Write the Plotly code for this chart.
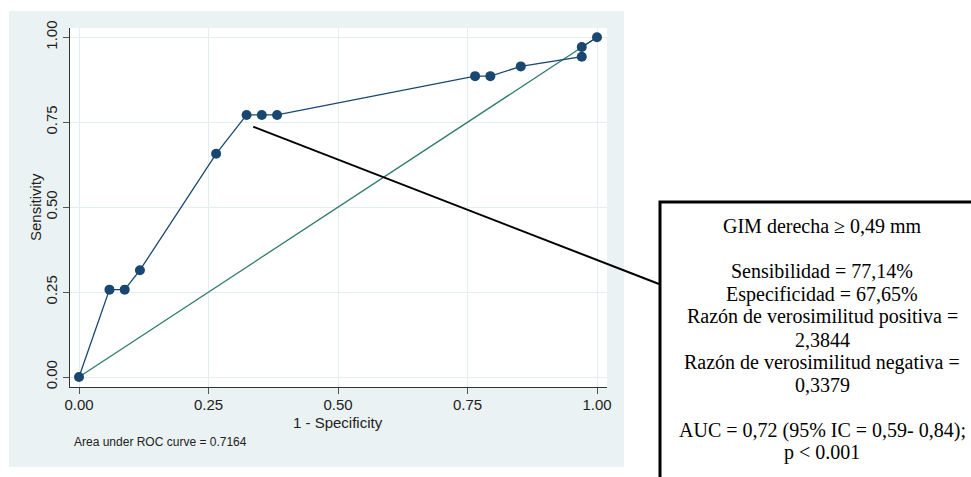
import plotly.graph_objects as go

# ---- data ----
fpr = [0.0, 0.0588, 0.0882, 0.1176, 0.2647, 0.3235, 0.3529, 0.3824,
       0.7647, 0.7941, 0.8529, 0.9706, 0.9706, 1.0]
tpr = [0.0, 0.2571, 0.2571, 0.3143, 0.6571, 0.7714, 0.7714, 0.7714,
       0.8857, 0.8857, 0.9143, 0.9429, 0.9714, 1.0]
ref_x = [0.0, 1.0]
ref_y = [0.0, 1.0]
tick_vals = [0.0, 0.25, 0.5, 0.75, 1.0]
tick_text = ["0.00", "0.25", "0.50", "0.75", "1.00"]
x_title = "1 - Specificity"
y_title = "Sensitivity"
auc_note = "Area under ROC curve = 0.7164"
box_lines = [
    "GIM derecha ≥ 0,49 mm",
    "",
    "Sensibilidad = 77,14%",
    "Especificidad = 67,65%",
    "Razón de verosimilitud positiva =",
    "2,3844",
    "Razón de verosimilitud negativa =",
    "0,3379",
    "",
    "AUC = 0,72 (95% IC = 0,59- 0,84);",
    "p < 0.001",
]
pointer_from = (0.3365, 0.7368)  # data coords of the callout line start

# ---- layout geometry (pixels) ----
W, H = 971, 477
L, R, T, B = 70, 607, 28, 387
PW, PH = R - L, B - T


def px(x):
    return (x - L) / PW


def py(y):
    return (B - y) / PH


NAVY = "#1a476f"
GREEN = "#2f7a6c"
BG = "#eaf2f3"
GRID = "#e4eef0"

fig = go.Figure()
fig.add_trace(go.Scatter(x=ref_x, y=ref_y, mode="lines",
                         line=dict(color=GREEN, width=1.3), showlegend=False,
                         hoverinfo="skip"))
fig.add_trace(go.Scatter(x=fpr, y=tpr, mode="lines+markers",
                         line=dict(color=NAVY, width=1.3),
                         marker=dict(color=NAVY, size=10),
                         showlegend=False))

axis_font = dict(family="Liberation Sans, Arial, sans-serif", size=15, color="#222")

fig.update_layout(
    width=W, height=H,
    margin=dict(l=L, r=W - R, t=T, b=H - B, pad=0),
    paper_bgcolor="white",
    plot_bgcolor="white",
    font=axis_font,
    xaxis=dict(range=[-9 / 518, (R - 79) / 518], tickvals=tick_vals, ticktext=tick_text,
               showgrid=True, gridcolor=GRID, gridwidth=1.2, zeroline=False,
               showline=True, linecolor="#333", linewidth=1,
               ticks="outside", ticklen=6, tickcolor="#555", tickwidth=1,
               ticklabelstandoff=-2,
               tickfont=axis_font, fixedrange=True),
    yaxis=dict(range=[-(B - 377) / 339.7, (377 - T) / 339.7], tickvals=tick_vals, ticktext=tick_text,
               showgrid=True, gridcolor=GRID, gridwidth=1.2, zeroline=False,
               showline=True, linecolor="#333", linewidth=1,
               ticks="outside", ticklen=6, tickcolor="#555", tickwidth=1,
               tickangle=-90, tickfont=axis_font, fixedrange=True),
)

shapes = [
    # grey graph region
    dict(type="rect", xref="paper", yref="paper", x0=px(9), x1=px(624), y0=py(467), y1=py(11),
         fillcolor=BG, line=dict(width=0), layer="below"),
    # white plot region
    dict(type="rect", xref="paper", yref="paper", x0=0, x1=1, y0=0, y1=1,
         fillcolor="white", line=dict(width=0), layer="below"),
    # callout line
    dict(type="line", xref="paper", yref="paper",
         x0=px(79 + pointer_from[0] * 518), y0=py(377 - pointer_from[1] * 339.7),
         x1=px(659), y1=py(284), line=dict(color="black", width=2), layer="above"),
    # callout box
    dict(type="rect", xref="paper", yref="paper", x0=px(660), x1=px(990), y0=py(500), y1=py(202),
         fillcolor="white", line=dict(color="black", width=3), layer="above"),
]
fig.update_layout(shapes=shapes)

annotations = [
    dict(text=x_title, xref="paper", yref="paper", x=px(338), y=py(422),
         xanchor="center", yanchor="middle", showarrow=False, font=axis_font),
    dict(text=y_title, xref="paper", yref="paper", x=px(35), y=py(207),
         xanchor="center", yanchor="middle", showarrow=False, textangle=-90, font=axis_font),
    dict(text=auc_note, xref="paper", yref="paper", x=px(72), y=py(442),
         xanchor="left", yanchor="middle", showarrow=False,
         font=dict(family="Liberation Sans, Arial, sans-serif", size=12, color="#222")),
]
serif = dict(family="Liberation Serif, Times New Roman, serif", size=20, color="black")
for i, line in enumerate(box_lines):
    if not line:
        continue
    annotations.append(dict(text=line, xref="paper", yref="paper", x=px(822), y=py(226 + 22.7 * i),
                            xanchor="center", yanchor="middle", showarrow=False, font=serif))
fig.update_layout(annotations=annotations)

fig.write_html("out.html")
